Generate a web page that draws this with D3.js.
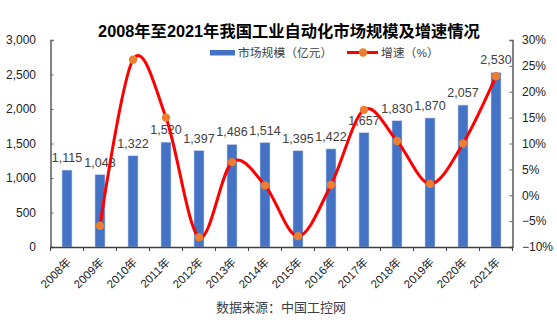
<!DOCTYPE html>
<html><head><meta charset="utf-8">
<script src="https://cdn.jsdelivr.net/npm/d3@7"></script>
<style>
body{margin:0;background:#fff;}
svg{display:block;font-family:"Liberation Sans",Arial,"Noto Sans CJK SC",sans-serif;}
</style></head>
<body>
<svg id="c" width="557" height="326"></svg>
<script>
const years = ["2008年","2009年","2010年","2011年","2012年","2013年","2014年","2015年","2016年","2017年","2018年","2019年","2020年","2021年"];
const marketSize = [1115,1048,1322,1520,1397,1486,1514,1395,1422,1657,1830,1870,2057,2530];
const growth = [null,-0.059,0.262,0.150,-0.081,0.064,0.019,-0.079,0.020,0.165,0.105,0.022,0.100,0.230];
const leftTicks = [0,500,1000,1500,2000,2500,3000];
const rightTicks = [-0.10,-0.05,0,0.05,0.10,0.15,0.20,0.25,0.30];
const title = "2008年至2021年我国工业自动化市场规模及增速情况";
const legendLabels = ["市场规模（亿元）","增速（%）"];
const source = "数据来源：中国工控网";

const svg = d3.select("#c");
const L = 50.5, R = 512.5, T = 40, B = 247;
const x = d3.scaleBand().domain(years).range([L, R]).paddingInner(0).paddingOuter(0);
const yL = d3.scaleLinear().domain([0,3000]).range([B, T]);
const yR = d3.scaleLinear().domain([-0.1,0.3]).range([B, T]);
const barW = 10;
const axisCol = "#404040", txtCol = "#404040";

// title
svg.append("text").attr("x", 289).attr("y", 37).attr("text-anchor","middle")
  .attr("font-size", 16.3).attr("font-weight","bold").attr("fill","#000")
  .attr("font-family","'Liberation Sans','Noto Sans CJK SC',sans-serif").text(title);

// bars
svg.append("g").selectAll("rect").data(marketSize).join("rect")
  .attr("x",(d,i)=>x(years[i])+x.bandwidth()/2-barW/2)
  .attr("y",d=>yL(d)).attr("width",barW).attr("height",d=>B-yL(d))
  .attr("fill","#4472C4").attr("stroke","#c7d5ef").attr("stroke-width",0.6);

// left axis
const gL = svg.append("g").attr("transform",`translate(${L},0)`)
  .call(d3.axisRight(yL).tickValues(leftTicks).tickSize(3).tickFormat(()=>""));
gL.select(".domain").attr("stroke",axisCol).attr("stroke-width",1.3);
gL.selectAll(".tick line").attr("stroke","#666");
svg.append("g").selectAll("text").data(leftTicks).join("text")
  .attr("x",36).attr("y",d=>yL(d)+4.3).attr("text-anchor","end")
  .attr("font-size",12).attr("fill","#222").text(d3.format(","));

// right axis
const gR = svg.append("g").attr("transform",`translate(${R},0)`)
  .call(d3.axisLeft(yR).tickValues(rightTicks).tickSize(3).tickFormat(()=>""));
gR.select(".domain").attr("stroke",axisCol).attr("stroke-width",1.3);
gR.selectAll(".tick line").attr("stroke","#666");
svg.append("g").selectAll("text").data(rightTicks).join("text")
  .attr("x",522).attr("y",d=>yR(d)+4.3).attr("text-anchor","start")
  .attr("font-size",12).attr("fill","#222").text(d=>d3.format(".0%")(d));

// x axis
const gX = svg.append("g").attr("transform",`translate(0,${B})`)
  .call(d3.axisBottom(x).tickSize(0).tickFormat(()=>""));
gX.select(".domain").attr("stroke",axisCol).attr("stroke-width",1.3);
const bounds = years.map(y=>x(y)).concat([R]);
svg.append("g").selectAll("line").data(bounds).join("line")
  .attr("x1",d=>d).attr("x2",d=>d).attr("y1",B).attr("y2",B+4)
  .attr("stroke",axisCol).attr("stroke-width",1);
svg.append("g").selectAll("text").data(years).join("text")
  .attr("transform",d=>`translate(${x(d)+x.bandwidth()/2+2},${B+13}) rotate(-45)`)
  .attr("text-anchor","end").attr("font-size",11.5).attr("fill","#222")
  .attr("dy","0.35em").text(d=>d);

// bar labels
svg.append("g").selectAll("text").data(marketSize).join("text")
  .attr("x",(d,i)=>x(years[i])+x.bandwidth()/2).attr("y",d=>yL(d)-8)
  .attr("text-anchor","middle").attr("font-size",12.5).attr("fill",txtCol)
  .text(d3.format(","));

// growth line
const pts = growth.map((g,i)=>({g,i})).filter(d=>d.g!==null);
const line = d3.line().x(d=>x(years[d.i])+x.bandwidth()/2).y(d=>yR(d.g))
  .curve(d3.curveCatmullRom.alpha(0));
svg.append("path").datum(pts).attr("d",line).attr("fill","none")
  .attr("stroke","#FF0000").attr("stroke-width",3);
svg.append("g").selectAll("circle").data(pts).join("circle")
  .attr("cx",d=>x(years[d.i])+x.bandwidth()/2).attr("cy",d=>yR(d.g)).attr("r",4.2)
  .attr("fill","#ED7D31");

// legend
const lg = svg.append("g");
lg.append("rect").attr("x",210).attr("y",50).attr("width",25).attr("height",5.5).attr("fill","#4472C4");
lg.append("text").attr("x",238).attr("y",57).attr("font-size",11.8).attr("fill",txtCol).text(legendLabels[0]);
lg.append("line").attr("x1",347).attr("x2",378).attr("y1",52.5).attr("y2",52.5).attr("stroke","#FF0000").attr("stroke-width",3);
lg.append("circle").attr("cx",363).attr("cy",52.5).attr("r",4.2).attr("fill","#ED7D31");
lg.append("text").attr("x",381).attr("y",57).attr("font-size",11.8).attr("fill",txtCol).text(legendLabels[1]);

// source
svg.append("text").attr("x",281).attr("y",312).attr("text-anchor","middle")
  .attr("font-size",13).attr("fill",txtCol).text(source);
</script>
</body></html>
